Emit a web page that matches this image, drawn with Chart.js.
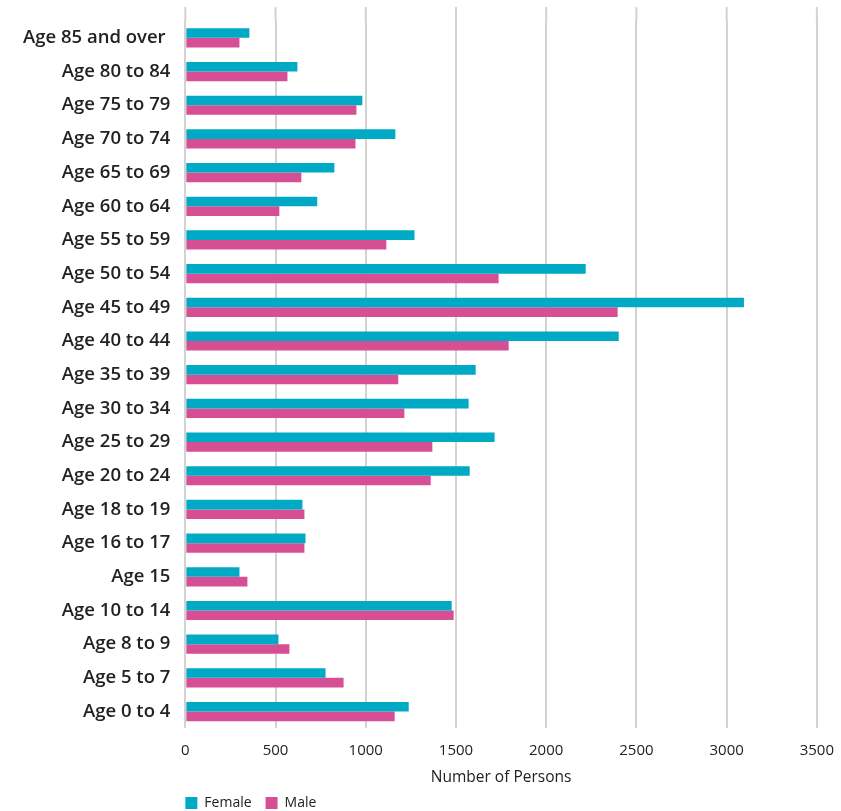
<!DOCTYPE html>
<html>
<head>
<meta charset="utf-8">
<script src="https://cdn.jsdelivr.net/npm/chart.js@4"></script>
<style>
  html, body { margin: 0; padding: 0; background: #fff; }
  #wrap { width: 841px; height: 811px; }
</style>
</head>
<body>
<div id="wrap"><canvas id="age-graph"></canvas></div>
<script>
// age groups, top to bottom
var ageGroups = ['Age 85 and over ', 'Age 80 to 84', 'Age 75 to 79', 'Age 70 to 74', 'Age 65 to 69',
    'Age 60 to 64', 'Age 55 to 59', 'Age 50 to 54', 'Age 45 to 49', 'Age 40 to 44', 'Age 35 to 39',
    'Age 30 to 34', 'Age 25 to 29', 'Age 20 to 24', 'Age 18 to 19', 'Age 16 to 17', 'Age 15',
    'Age 10 to 14', 'Age 8 to 9', 'Age 5 to 7', 'Age 0 to 4'];
var female = [355, 621, 981, 1164, 826, 731, 1270, 2219, 3096, 2402, 1609, 1570, 1714, 1576, 649, 666, 300, 1476, 516, 777, 1238];
var male = [300, 566, 948, 943, 643, 521, 1114, 1736, 2396, 1792, 1180, 1214, 1369, 1360, 660, 660, 344, 1487, 577, 877, 1160];
var xTicks = [0, 500, 1000, 1500, 2000, 2500, 3000, 3500];

var gridColor = '#d2d2d2';
var legendPad = 14;

// grid lines start a little above the first bar group, legend starts at the plot's left edge
var tweaks = {
    id: 'tweaks',
    afterLayout: function (chart) {
        var lg = chart.legend, w = lg.right - lg.left;
        lg.left = chart.chartArea.left - legendPad;
        lg.right = lg.left + w;
    },
    beforeDatasetsDraw: function (chart) {
        var ctx = chart.ctx, x = chart.scales.x, top = chart.chartArea.top;
        ctx.save();
        ctx.strokeStyle = gridColor;
        ctx.lineWidth = 2;
        x.ticks.forEach(function (t, i) {
            var px = x.getPixelForTick(i);
            ctx.beginPath();
            ctx.moveTo(px, top - 14);
            ctx.lineTo(px, top);
            ctx.stroke();
        });
        ctx.restore();
    }
};

var ctx = document.getElementById('age-graph').getContext('2d');
new Chart(ctx, {
    type: 'bar',
    data: {
        labels: ageGroups,
        datasets: [{
            label: 'Female',
            backgroundColor: '#00aac5',
            data: female,
            barPercentage: 1,
            categoryPercentage: 0.57
        }, {
            label: 'Male',
            backgroundColor: '#d64e94',
            data: male,
            barPercentage: 1,
            categoryPercentage: 0.57
        }]
    },
    options: {
        indexAxis: 'y',
        responsive: true,
        maintainAspectRatio: false,
        animation: false,
        layout: { padding: { top: 0, right: 0, left: 8, bottom: -9 } },
        scales: {
            x: {
                min: 0,
                max: 3500,
                afterBuildTicks: function (axis) {
                    axis.ticks = xTicks.map(function (v) { return { value: v }; });
                },
                grid: { color: gridColor, lineWidth: 2, drawTicks: true, tickLength: 6, tickColor: 'rgba(0,0,0,0)' },
                border: { display: false },
                ticks: {
                    padding: 7,
                    color: '#222',
                    font: { family: 'Open Sans', size: 15 },
                    callback: function (v) { return String(v); }
                },
                title: {
                    display: true,
                    text: 'Number of Persons',
                    color: '#222',
                    padding: { top: 2, bottom: -5 },
                    font: { family: 'Open Sans', size: 15.5 }
                }
            },
            y: {
                grid: { display: false, drawTicks: false },
                border: { display: false },
                ticks: {
                    padding: 15,
                    color: '#222',
                    font: { family: 'Open Sans', size: 18.5, weight: '600', lineHeight: 0.65 }
                }
            }
        },
        plugins: {
            legend: {
                position: 'bottom',
                align: 'start',
                fullSize: false,
                labels: {
                    boxWidth: 12,
                    boxHeight: 12,
                    padding: legendPad,
                    color: '#222',
                    font: { family: 'Open Sans', size: 14 }
                }
            },
            tooltip: { enabled: false }
        }
    },
    plugins: [tweaks]
});
</script>
</body>
</html>
